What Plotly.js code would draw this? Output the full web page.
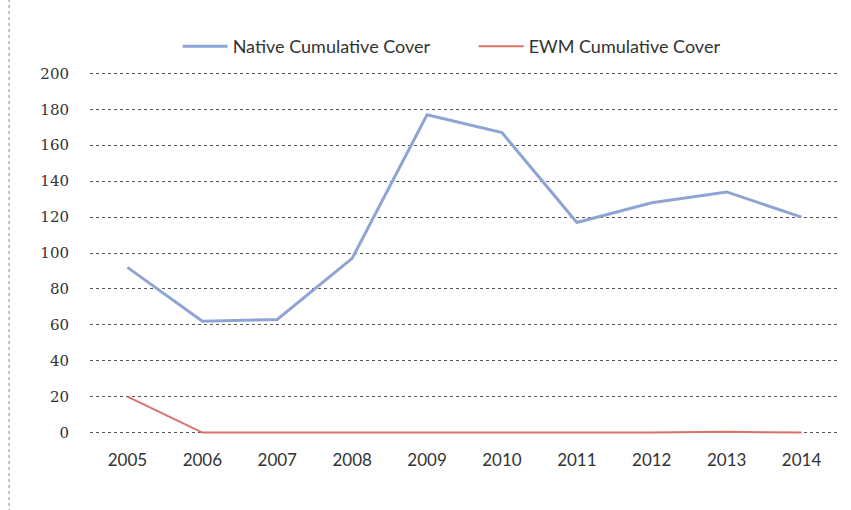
<!DOCTYPE html>
<html>
<head>
<meta charset="utf-8">
<script src="https://cdn.plot.ly/plotly-3.0.1.min.js"></script>
<style>html,body{margin:0;padding:0;background:#fff;}#chart{width:851px;height:510px;}</style>
</head>
<body>
<div id="chart"></div>
<script>
const years = ['2005','2006','2007','2008','2009','2010','2011','2012','2013','2014'];
const nativeCover = [92, 62, 63, 97, 177, 167, 117, 128, 134, 120];
const ewmCover = [20, 0, 0, 0, 0, 0, 0, 0, 0.5, 0];
const yTicks = [0, 20, 40, 60, 80, 100, 120, 140, 160, 180, 200];

const traces = [
  {x: years, y: nativeCover, type: 'scatter', mode: 'lines', name: 'Native Cumulative Cover',
   line: {color: '#8ea5d4', width: 3}},
  {x: years, y: ewmCover, type: 'scatter', mode: 'lines', name: 'EWM Cumulative Cover',
   line: {color: '#d9706a', width: 2}}
];

const layout = {
  width: 851, height: 510,
  margin: {l: 90, r: 12, t: 68, b: 72},
  paper_bgcolor: '#ffffff', plot_bgcolor: '#ffffff',
  showlegend: true,
  legend: {orientation: 'h', x: 0.117, xanchor: 'left', y: 1.058, yanchor: 'middle',
           font: {family: 'Lato, DejaVu Sans Condensed, sans-serif', size: 18, color: '#333'},
           itemwidth: 45, entrywidth: 236, entrywidthmode: 'pixels', bgcolor: 'rgba(0,0,0,0)'},
  xaxis: {type: 'category', range: [-0.5, 9.5], showgrid: false, zeroline: false, showline: false, ticks: '',
          ticklabelstandoff: 10,
          tickfont: {family: 'Lato, DejaVu Sans, sans-serif', size: 17, color: '#333'}},
  yaxis: {range: [-3, 203], tickvals: yTicks, ticktext: yTicks.map(String), showgrid: true,
          gridcolor: '#555', griddash: 'dot', gridwidth: 1, zeroline: false, showline: false,
          ticks: '', ticklabelstandoff: 20,
          tickfont: {family: 'DejaVu Serif, serif', size: 15, color: '#333'}},
  shapes: [{type: 'line', xref: 'paper', yref: 'paper', x0: -0.108, x1: -0.108, y0: -0.2, y1: 1.2,
            line: {color: '#888', width: 1, dash: 'dot'}}]
};

Plotly.newPlot('chart', traces, layout, {displayModeBar: false, staticPlot: true});
</script>
</body>
</html>
